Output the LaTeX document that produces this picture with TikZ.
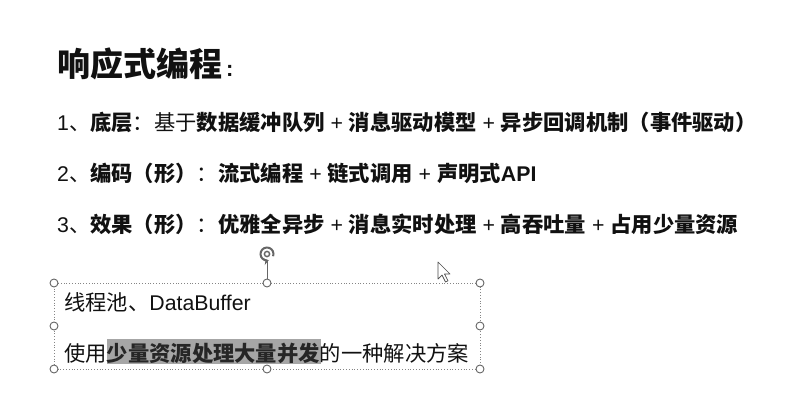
\documentclass[tikz,border=0pt]{standalone}
\usepackage{fontspec}
\setmainfont{Noto Sans CJK SC}
\newfontfamily\lat{Liberation Sans}
\usetikzlibrary{arrows.meta}
\definecolor{ink}{HTML}{111111}
\definecolor{hlgray}{HTML}{A6A6A6}
\definecolor{hdl}{HTML}{666666}
\tikzset{
  line/.style={anchor=base west, inner sep=0pt, text=ink, font=\fontsize{21.3}{26}\selectfont},
  handle/.style={circle, draw=hdl, fill=white, line width=0.9pt, minimum size=8pt, inner sep=0pt},
  selbox/.style={draw=hdl!80, dotted, line width=0.8pt},
}
\newcommand{\pl}{{\lat\ +\ }}
\begin{document}
\begin{tikzpicture}[x=1pt,y=-1pt]
\useasboundingbox[fill=white] (0,0) rectangle (806,404);
% title
\node[anchor=base west, inner sep=0pt, text=ink] (title) at (57,77)
  {\fontsize{33}{38}\selectfont\bfseries 响应式编程\hspace{4pt}{\fontsize{22}{24}\selectfont\lat :}};
% lines
\node[line] (l1) at (57,130) {{\lat 1}、\textbf{底层}：基于\textbf{数据缓冲队列}\pl\textbf{消息驱动模型}\pl\textbf{异步回调机制（事件驱动）}};
\node[line] (l2) at (57,181) {{\lat 2}、\textbf{编码（形）}：\textbf{流式编程}\pl\textbf{链式调用}\pl\textbf{声明式{\lat API}}};
\node[line] (l3) at (57,232) {{\lat 3}、\textbf{效果（形）}：\textbf{优雅全异步}\pl\textbf{消息实时处理}\pl\textbf{高吞吐量}\pl\textbf{占用少量资源}};
% selection box
\coordinate (nw) at (54,283);
\coordinate (ne) at (480,283);
\coordinate (sw) at (54,369);
\coordinate (se) at (480,369);
\draw[selbox] (nw) rectangle (se);
% highlight
\fill[hlgray] (107,339) rectangle (321,364);
\node[line, font=\fontsize{21.3}{25}\selectfont] (b1) at (64,310) {线程池、{\lat DataBuffer}};
\node[line, font=\fontsize{21.3}{25}\selectfont] (b2) at (64,361) {使用{\color{black!85}\bfseries 少量资源处理大量并发}的一种解决方案};
% rotation handle
\coordinate (rot) at (267,254);
\node[handle] (hn) at (267,283) {};
\draw[hdl, line width=0.9pt] (267,261) -- (hn.north);
\draw[hdl, line width=2pt, -{Stealth[length=5pt,width=7pt]}] (rot) ++(20:6.5) arc[start angle=20, end angle=-285, radius=6.5];
\draw[hdl, line width=1.4pt] (rot) circle (2.6);
% handles
\node[handle] at (nw) {};
\node[handle] at (ne) {};
\node[handle] at (sw) {};
\node[handle] at (se) {};
\node[handle] at (54,326) {};
\node[handle] at (480,326) {};
\node[handle] at (267,369) {};
% cursor
\draw[fill=white, draw=black!70, line width=0.7pt, line join=round] (438,262) -- ++(0,17) -- ++(4,-4) -- ++(3.5,7) -- ++(2.5,-1.2) -- ++(-3.5,-6.8) -- ++(5.5,0) -- cycle;
\end{tikzpicture}
\end{document}
